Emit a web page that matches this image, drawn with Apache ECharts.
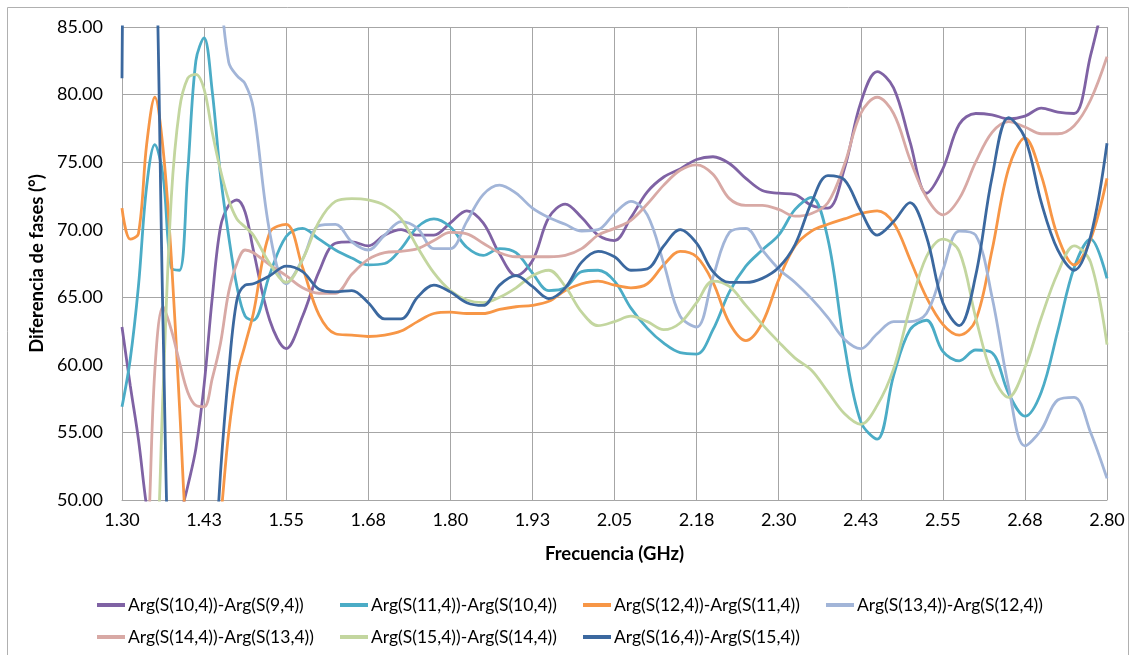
<!DOCTYPE html>
<html>
<head>
<meta charset="utf-8">
<title>Diferencia de fases</title>
<script src="https://cdn.jsdelivr.net/npm/echarts@6/dist/echarts.min.js"></script>
<style>
  html, body { margin: 0; padding: 0; background: #fff; }
  #chart { width: 1137px; height: 655px; }
</style>
</head>
<body>
<div id="chart"></div>
<script>
// frecuencias (GHz): paso fino al principio, donde las curvas cambian rápido
const freq = [
  1.30, 1.3125, 1.325, 1.3375, 1.35, 1.3625, 1.375, 1.3875, 1.40, 1.4125, 1.425, 1.4375, 1.45, 1.4625, 1.475, 1.4875, 1.50,
  1.525, 1.55, 1.575, 1.60, 1.625, 1.65, 1.675, 1.70, 1.725, 1.75, 1.775, 1.80, 1.825, 1.85, 1.875, 1.90, 1.925, 1.95, 1.975,
  2.00, 2.025, 2.05, 2.075, 2.10, 2.125, 2.15, 2.175, 2.20, 2.225, 2.25, 2.275, 2.30, 2.325, 2.35, 2.375, 2.40, 2.425, 2.45,
  2.475, 2.50, 2.525, 2.55, 2.575, 2.60, 2.625, 2.65, 2.675, 2.70, 2.725, 2.75, 2.775, 2.80
]

const xTickLabels = ['1.30', '1.43', '1.55', '1.68', '1.80', '1.93', '2.05', '2.18', '2.30', '2.43', '2.55', '2.68', '2.80']

const seriesNames = [
  'Arg(S(10,4))-Arg(S(9,4))',
  'Arg(S(11,4))-Arg(S(10,4))',
  'Arg(S(12,4))-Arg(S(11,4))',
  'Arg(S(13,4))-Arg(S(12,4))',
  'Arg(S(14,4))-Arg(S(13,4))',
  'Arg(S(15,4))-Arg(S(14,4))',
  'Arg(S(16,4))-Arg(S(15,4))'
]

// diferencia de fases (°), un valor por frecuencia
const s10_9 = [
  62.8, 58.5, 54.5, 49.5, 46, 44, 45, 48.5, 51, 53.8, 58.5, 65, 70.2, 71.8, 72.2, 71.3, 68.5,
  63.3, 61.2, 63.6, 66.9, 69.0, 69.1, 68.8, 69.6, 70.0, 69.6, 69.6, 70.5, 71.4, 70.5, 68.2, 66.6, 67.7, 70.9, 71.9,
  70.9, 69.6, 69.2, 70.9, 72.8, 73.9, 74.5, 75.2, 75.4, 74.9, 73.8, 72.9, 72.7, 72.6, 71.8, 71.6, 74.5, 79.4, 81.7,
  80.5, 76.5, 72.7, 74.5, 77.8, 78.6, 78.5, 78.2, 78.4, 79.0, 78.7, 78.6, 82.9, 88
]
const s11_10 = [
  56.9, 60.4, 65.8, 73.2, 76.3, 74.0, 67.2, 67.0, 74.2, 82.5, 84.2, 80.2, 74.0, 69.5, 65.8, 63.6, 63.3,
  66.7, 69.5, 70.1, 69.3, 68.5, 67.9, 67.4, 67.5, 68.6, 70.2, 70.8, 70.2, 68.7, 68.1, 68.6, 68.3, 66.8, 65.5, 65.7,
  66.9, 67.0, 66.2, 64.2, 62.7, 61.6, 60.9, 60.8, 62.6, 65.4, 67.3, 68.5, 69.6, 71.5, 72.4, 69.3, 61.5, 55.8, 54.5,
  59.2, 62.6, 63.3, 61.0, 60.3, 61.1, 60.9, 57.9, 56.2, 58.0, 62.5, 67.2, 69.3, 66.4
]
const s12_11 = [
  71.6, 69.3, 69.7, 76.3, 79.8, 76.0, 68.0, 57.0, 46, 42, 41, 43, 48.5, 55.0, 59.2, 61.5, 63.8,
  69.8, 70.4, 67.2, 63.7, 62.3, 62.2, 62.1, 62.2, 62.5, 63.2, 63.8, 63.9, 63.8, 63.8, 64.1, 64.3, 64.4, 64.7, 65.5,
  66.0, 66.2, 65.9, 65.7, 66.0, 67.4, 68.4, 68.0, 66.1, 63.1, 61.8, 63.1, 66.3, 68.8, 69.9, 70.4, 70.8, 71.2, 71.4,
  70.5, 67.8, 65.0, 63.0, 62.2, 63.3, 68.5, 74.5, 76.8, 74.0, 69.5, 67.4, 69.3, 73.8
]
const s13_12 = [
  100, 100, 100, 100, 100, 100, 100, 100, 100, 100, 100, 100, 88, 82.4, 81.4, 80.8, 79.0,
  69.8, 66.0, 67.8, 70.3, 70.4, 69.1, 68.5, 69.6, 70.6, 70.1, 68.6, 68.6, 70.6, 72.6, 73.3, 72.7, 71.6, 70.9, 70.4,
  69.9, 70.0, 71.2, 72.1, 71.1, 67.5, 63.6, 62.8, 66.5, 69.8, 70.1, 68.5, 67.1, 66.1, 64.9, 63.5, 61.9, 61.2, 62.3,
  63.2, 63.2, 63.8, 67.0, 69.9, 69.6, 65.0, 58.4, 54.0, 55.2, 57.4, 57.6, 55.0, 51.6
]
const s14_13 = [
  40, 40, 41, 45, 59.6, 64.3, 62.6, 60.2, 58.0, 57.0, 56.9, 59.0, 61.6, 65.4, 67.5, 68.5, 68.3,
  67.4, 66.6, 65.7, 65.3, 65.3, 66.7, 67.8, 68.3, 68.4, 68.6, 69.2, 69.8, 69.7, 69.0, 68.3, 68.0, 68.0, 68.0, 68.1,
  68.6, 69.6, 70.1, 70.7, 71.9, 73.3, 74.4, 74.8, 74.1, 72.3, 71.8, 71.8, 71.5, 71.0, 71.2, 72.0, 74.8, 78.6, 79.8,
  78.6, 75.2, 72.4, 71.1, 72.3, 75.0, 77.2, 78.0, 77.6, 77.1, 77.1, 77.7, 79.6, 82.8
]
const s15_14 = [
  40, 38, 36, 38, 42, 58, 72.3, 78.9, 81.2, 81.5, 80.4, 77.2, 74.4, 72.2, 70.8, 70.2, 69.6,
  67.5, 66.1, 67.8, 70.6, 72.1, 72.3, 72.2, 71.8, 70.8, 68.7, 66.8, 65.5, 64.8, 64.6, 65.0, 65.7, 66.6, 67.0, 65.8,
  63.9, 62.9, 63.2, 63.6, 63.2, 62.6, 63.1, 64.6, 66.2, 65.8, 64.4, 63.0, 61.7, 60.5, 59.6, 58.0, 56.4, 55.6, 57.0,
  59.7, 64.2, 68.0, 69.3, 68.4, 63.5, 59.3, 57.6, 59.8, 63.5, 66.8, 68.8, 67.6, 61.5
]
const s16_15 = [
  81.2, 110, 110, 105, 95, 63, 38, 33, 32, 32, 34, 42, 52, 59.5, 64.8, 65.9, 66.0,
  66.6, 67.3, 66.9, 65.6, 65.4, 65.5, 64.6, 63.4, 63.4, 65.0, 65.9, 65.4, 64.6, 64.4, 65.9, 66.6, 65.8, 64.9, 65.7,
  67.6, 68.4, 68.0, 67.0, 67.1, 68.8, 70.0, 69.0, 66.9, 66.1, 66.1, 66.4, 67.2, 68.9, 72.0, 74.0, 73.7, 71.4, 69.6,
  70.6, 72.0, 69.5, 64.6, 62.9, 66.6, 73.9, 78.3, 76.8, 72.0, 68.5, 67.0, 69.5, 76.4
]

const allValues = [s10_9, s11_10, s12_11, s13_12, s14_13, s15_14, s16_15]
const colors = ['#7f62a4', '#4bacc6', '#f79646', '#a2b5d8', '#d8a9a5', '#c3d69f', '#3b689f']

const font = 'Lato, "Liberation Sans", sans-serif'
const textColor = '#000'
const gridColor = '#a6a6a6'

// leyenda en dos filas, cuatro columnas fijas como en Excel
const legendPos = [[97, 596], [340, 596], [583, 596], [826, 596], [97, 628], [340, 628], [583, 628]]

const chart = echarts.init(document.getElementById('chart'))
chart.setOption({
  animation: false,
  backgroundColor: '#fff',
  color: colors,
  graphic: [{
    type: 'rect',
    shape: { x: 7.5, y: 7.5, width: 1121, height: 700 },
    style: { fill: 'none', stroke: '#b0b0b0', lineWidth: 1 },
    silent: true
  }],
  grid: { left: 122, right: 30, top: 27, bottom: 155 },
  xAxis: {
    type: 'value',
    min: 1.3,
    max: 2.8,
    interval: 0.125,
    name: 'Frecuencia (GHz)',
    nameLocation: 'middle',
    nameGap: 45,
    nameTextStyle: { fontFamily: font, fontSize: 18.5, fontWeight: 'bold', color: textColor },
    axisLine: { show: true, lineStyle: { color: gridColor, width: 1 } },
    axisTick: { show: false },
    axisLabel: {
      fontFamily: font, fontSize: 18, color: textColor, margin: 11,
      formatter: v => xTickLabels[Math.round((v - 1.3) / 0.125)]
    },
    splitLine: { show: true, lineStyle: { color: gridColor, width: 1 } }
  },
  yAxis: {
    type: 'value',
    min: 50,
    max: 85,
    interval: 5,
    name: 'Diferencia de fases (°)',
    nameLocation: 'middle',
    nameGap: 68,
    nameRotate: 90,
    nameTextStyle: { fontFamily: font, fontSize: 18.5, fontWeight: 'bold', color: textColor },
    axisLine: { show: true, lineStyle: { color: gridColor, width: 1 } },
    axisTick: { show: false },
    axisLabel: {
      fontFamily: font, fontSize: 18, color: textColor, margin: 19,
      formatter: v => v.toFixed(2)
    },
    splitLine: { show: true, lineStyle: { color: gridColor, width: 1 } }
  },
  legend: seriesNames.map((name, i) => ({
    data: [name],
    left: legendPos[i][0],
    top: legendPos[i][1],
    padding: 0,
    icon: 'rect',
    itemWidth: 28,
    itemHeight: 4,
    itemGap: 0,
    selectedMode: false,
    textStyle: { fontFamily: font, fontSize: 17.5, color: textColor, padding: [0, 0, 0, -2] }
  })),
  series: seriesNames.map((name, i) => ({
    name,
    type: 'line',
    data: freq.map((f, k) => [f, allValues[i][k]]),
    smooth: 0.35,
    showSymbol: false,
    clip: true,
    lineStyle: { width: 2.8, color: colors[i] },
    itemStyle: { color: colors[i] }
  }))
})
</script>
</body>
</html>
